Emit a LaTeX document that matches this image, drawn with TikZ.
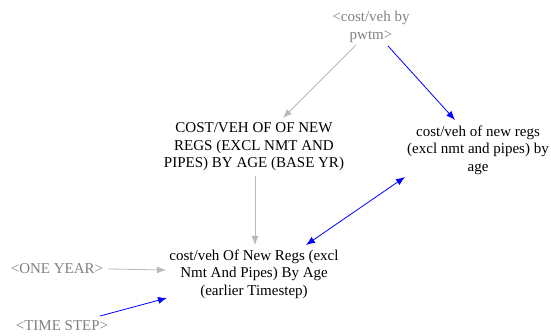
\documentclass[tikz,border=0pt]{standalone}
\usepackage{fontspec}
\setmainfont{Liberation Serif}
\usetikzlibrary{arrows.meta}
\definecolor{lgray}{RGB}{185,185,185}
\definecolor{tgray}{RGB}{128,128,128}
\definecolor{vblue}{RGB}{0,0,255}
\tikzset{
  var/.style={align=center, font=\fontsize{15}{17.5}\selectfont, inner sep=0pt},
  shadow/.style={var, text=tgray},
  garrow/.style={draw=lgray, line width=0.8pt, -{Latex[length=9pt,width=7pt]}},
  barrow/.style={draw=vblue, line width=0.8pt, -{Latex[length=9pt,width=7pt]}},
}
\begin{document}
\begin{tikzpicture}[x=1pt,y=-1pt]
\useasboundingbox (0,0) rectangle (551,336);
\node[shadow] (pwtm) at (371,27) {<cost/veh by\\pwtm>};
\node[var] (base) at (254,147) {COST/VEH OF OF NEW\\REGS (EXCL NMT AND\\PIPES) BY AGE (BASE YR)};
\node[var] (cv) at (478,150) {cost/veh of new regs\\(excl nmt and pipes) by\\age};
\node[var] (early) at (254,274) {cost/veh Of New Regs (excl\\Nmt And Pipes) By Age\\(earlier Timestep)};
\node[shadow] (one) at (57,269) {<ONE YEAR>};
\node[shadow] (ts) at (62,326) {<TIME STEP>};
\coordinate (a1s) at (356,45);
\coordinate (a1e) at (283,118);
\draw[garrow] (a1s) -- (a1e);
\coordinate (a2s) at (388,46);
\coordinate (a2e) at (455,120);
\draw[barrow] (a2s) -- (a2e);
\coordinate (a3s) at (255,176);
\coordinate (a3e) at (255,245);
\draw[garrow] (a3s) -- (a3e);
\coordinate (a4s) at (405,177);
\coordinate (a4e) at (306,245);
\draw[barrow, {Latex[length=9pt,width=7pt]}-{Latex[length=9pt,width=7pt]}] (a4s) -- (a4e);
\coordinate (a5s) at (108,269);
\coordinate (a5e) at (166,270);
\draw[garrow] (a5s) -- (a5e);
\coordinate (a6s) at (100,316);
\coordinate (a6e) at (167,298);
\draw[barrow] (a6s) -- (a6e);
\end{tikzpicture}
\end{document}
